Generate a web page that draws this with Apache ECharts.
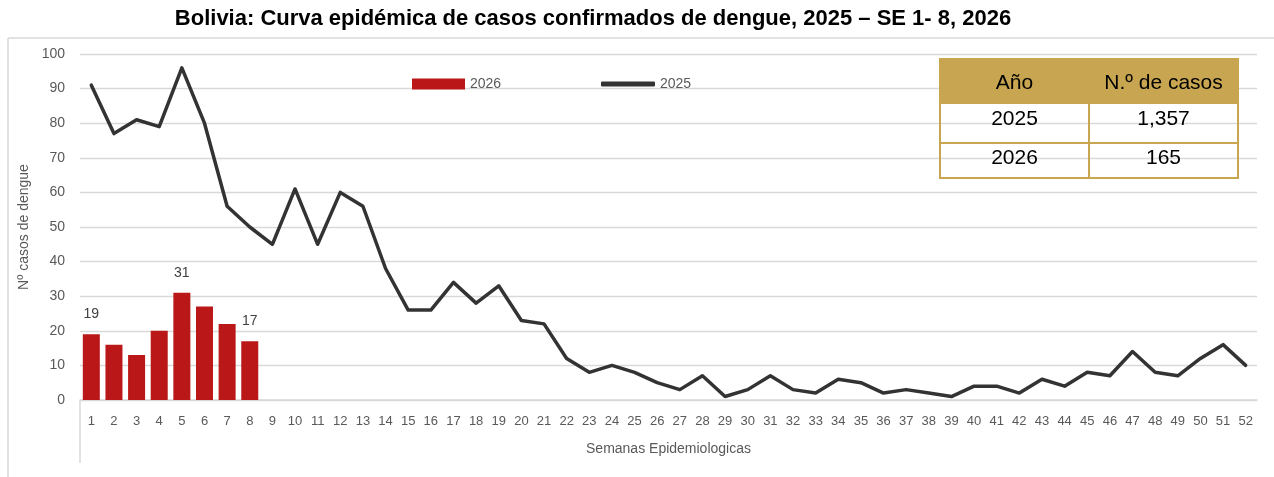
<!DOCTYPE html>
<html>
<head>
<meta charset="utf-8">
<script src="https://cdn.jsdelivr.net/npm/echarts@6/dist/echarts.min.js"></script>
<style>
  html, body { margin: 0; padding: 0; background: #fff; }
  #chart { width: 1274px; height: 477px; }
</style>
</head>
<body>
<div id="chart"></div>
<script>
// semanas epidemiologicas 1..52
var weeks = [1, 2, 3, 4, 5, 6, 7, 8, 9, 10, 11, 12, 13, 14, 15, 16, 17, 18, 19, 20,
  21, 22, 23, 24, 25, 26, 27, 28, 29, 30, 31, 32, 33, 34, 35, 36, 37, 38, 39, 40,
  41, 42, 43, 44, 45, 46, 47, 48, 49, 50, 51, 52]
var cases2025 = [91, 77, 81, 79, 96, 80, 56, 50, 45, 61, 45, 60, 56, 38, 26, 26, 34, 28, 33, 23,
  22, 12, 8, 10, 8, 5, 3, 7, 1, 3, 7, 3, 2, 6, 5, 2, 3, 2, 1, 4,
  4, 2, 6, 4, 8, 7, 14, 8, 7, 12, 16, 10]
var cases2026 = [19, 16, 13, 20, 31, 27, 22, 17]
var labeledWeeks = [1, 5, 8]
var yTicks = [0, 10, 20, 30, 40, 50, 60, 70, 80, 90, 100]

// tabla resumen
var tableHeader = ['Año', 'N.º de casos']
var tableYears = ['2025', '2026']
var tableTotals = ['1,357', '165']

var chart = echarts.init(document.getElementById('chart'))

var gold = '#C8A550'
var grey = '#595959'
var font = 'Liberation Sans, Arial, sans-serif'

function buildTable() {
  var x0 = 940, x1 = 1238, xm = 1089
  var rows = [59, 104, 143, 178]
  var textY = [83, 119, 158]
  var els = []
  els.push({ type: 'rect', shape: { x: x0, y: rows[0], width: x1 - x0, height: rows[1] - rows[0] },
    style: { fill: gold }, z: 10 })
  els.push({ type: 'rect', shape: { x: x0, y: rows[0], width: x1 - x0, height: rows[3] - rows[0] },
    style: { fill: 'none', stroke: gold, lineWidth: 2 }, z: 11 })
  els.push({ type: 'line', shape: { x1: x0, y1: rows[2], x2: x1, y2: rows[2] },
    style: { stroke: gold, lineWidth: 2 }, z: 11 })
  els.push({ type: 'line', shape: { x1: xm, y1: rows[1], x2: xm, y2: rows[3] },
    style: { stroke: gold, lineWidth: 2 }, z: 11 })
  var cx = [(x0 + xm) / 2, (xm + x1) / 2]
  var cells = [tableHeader, [tableYears[0], tableTotals[0]], [tableYears[1], tableTotals[1]]]
  cells.forEach(function (row, r) {
    row.forEach(function (txt, c) {
      els.push({
        type: 'text', z: 12,
        x: cx[c], y: textY[r],
        style: { text: txt, fill: '#000', font: '21px ' + font, align: 'center', verticalAlign: 'middle' }
      })
    })
  })
  return els
}

chart.setOption({
  backgroundColor: '#fff',
  animation: false,
  title: {
    text: 'Bolivia: Curva epidémica de casos confirmados de dengue, 2025 – SE 1- 8, 2026',
    left: 588,
    textAlign: 'center',
    top: 3,
    textStyle: { fontFamily: font, fontWeight: 'bold', fontSize: 22, color: '#000' }
  },
  legend: [
    {
      data: [{ name: '2026', icon: 'rect' }],
      left: 412, top: 77, padding: 0,
      itemWidth: 53, itemHeight: 11, itemGap: 5,
      textStyle: { fontFamily: font, fontSize: 14, color: grey }
    },
    {
      data: [{ name: '2025', icon: 'roundRect' }],
      left: 601, top: 77, padding: 0,
      itemWidth: 54, itemHeight: 5, itemGap: 5,
      textStyle: { fontFamily: font, fontSize: 14, color: grey }
    }
  ],
  grid: { left: 80, right: 17, top: 54, bottom: 77, containLabel: false },
  xAxis: {
    type: 'category',
    data: weeks,
    boundaryGap: true,
    axisLine: { lineStyle: { color: '#d9d9d9', width: 1.5 } },
    axisTick: { show: false },
    axisLabel: { interval: 0, margin: 15, fontFamily: font, fontSize: 13, color: grey },
    name: 'Semanas Epidemiologicas',
    nameLocation: 'middle',
    nameGap: 42,
    nameTextStyle: { fontFamily: font, fontSize: 14, color: grey }
  },
  yAxis: {
    type: 'value',
    min: yTicks[0],
    max: yTicks[yTicks.length - 1],
    interval: 10,
    axisLine: { show: false },
    axisTick: { show: false },
    splitLine: { lineStyle: { color: '#d9d9d9', width: 1.3 } },
    axisLabel: { margin: 15, fontFamily: font, fontSize: 14, color: grey },
    name: 'Nº casos de dengue',
    nameLocation: 'middle',
    nameRotate: 90,
    nameGap: 48,
    nameTextStyle: { fontFamily: font, fontSize: 14, color: grey }
  },
  series: [
    {
      name: '2026',
      type: 'bar',
      barWidth: 17,
      itemStyle: { color: '#BA1818' },
      data: cases2026.map(function (v, i) {
        return {
          value: v,
          label: {
            show: labeledWeeks.indexOf(weeks[i]) >= 0,
            position: 'top',
            distance: 13,
            fontFamily: font,
            fontSize: 14,
            color: '#404040'
          }
        }
      })
    },
    {
      name: '2025',
      type: 'line',
      data: cases2025,
      symbol: 'none',
      z: 3,
      itemStyle: { color: '#333333' },
      lineStyle: { color: '#333333', width: 3.5, cap: 'round', join: 'round' }
    }
  ],
  graphic: [
    { type: 'line', shape: { x1: 8, y1: 38, x2: 1274, y2: 38 }, style: { stroke: '#d9d9d9', lineWidth: 1.5 } },
    { type: 'line', shape: { x1: 8, y1: 38, x2: 8, y2: 477 }, style: { stroke: '#d9d9d9', lineWidth: 1.5 } },
    { type: 'line', shape: { x1: 80, y1: 400, x2: 80, y2: 463 }, style: { stroke: '#d9d9d9', lineWidth: 1.5 } }
  ].concat(buildTable())
})
</script>
</body>
</html>
